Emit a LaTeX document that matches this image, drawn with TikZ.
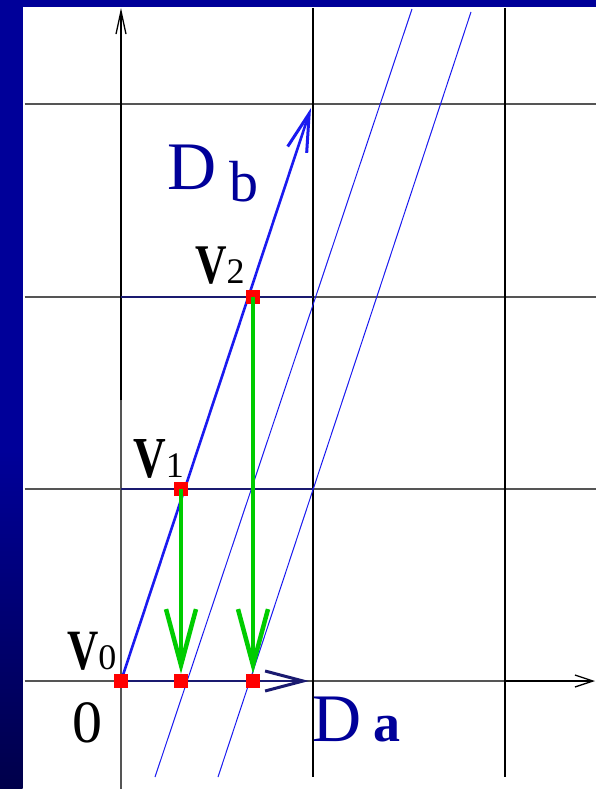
\documentclass[tikz,border=0pt]{standalone}
\usepackage{fontspec}
\setmainfont{Liberation Serif}
\usetikzlibrary{arrows.meta}
\definecolor{barblue}{HTML}{000099}
\definecolor{bardark}{HTML}{00004A}
\definecolor{navy}{HTML}{1A1A70}
\definecolor{labnavy}{HTML}{000099}
\definecolor{lineblue}{HTML}{1A1AF0}
\definecolor{gridgray}{HTML}{555555}
\definecolor{arrgreen}{HTML}{00CC00}
\begin{document}
\begin{tikzpicture}[x=1pt,y=-1pt,
  gridline/.style={gridgray,line width=1.5pt},
  vline/.style={black,line width=1.3pt},
  axisline/.style={black,line width=1.3pt},
  thinblue/.style={lineblue,line width=1pt},
  navyseg/.style={navy,line width=2pt},
  bigvec/.style={line width=2.6pt,-{Straight Barb[length=38pt,width=20pt,line width=3pt]}},
  gar/.style={arrgreen,line width=3.6pt,-{Straight Barb[length=56pt,width=30pt,line width=4.5pt]}},
  ptbox/.style={rectangle,fill=red,draw=none,minimum size=14pt,inner sep=0pt},
  lab/.style={inner sep=0pt,anchor=base west}]
\useasboundingbox (0,0) rectangle (596,789);
\fill[white] (0,0) rectangle (596,789);
\fill[barblue] (0,0) rectangle (596,7);
\fill[barblue] (0,0) rectangle (22.5,451);
\shade[top color=barblue,bottom color=bardark] (0,450) rectangle (22.5,789);
% coordinates
\coordinate (p0) at (121,681);
\coordinate (p1) at (181,489);
\coordinate (p2) at (253,297);
\coordinate (q1) at (181,681);
\coordinate (q2) at (253,681);
% grid
\draw[gridline] (24.7,104) coordinate (h1a) -- (596,104) coordinate (h1b);
\draw[gridline] (24.7,297) coordinate (h2a) -- (596,297) coordinate (h2b);
\draw[gridline] (24.7,489) coordinate (h3a) -- (596,489) coordinate (h3b);
\draw[gridline] (24.7,681) coordinate (h4a) -- (505,681) coordinate (h4b);
\draw[axisline,-{Straight Barb[length=18pt,width=12pt]}] (h4b) -- (595,681) coordinate (xend);
\draw[vline] (313,8) coordinate (v2a) -- (313,777) coordinate (v2b);
\draw[vline] (505,8) coordinate (v3a) -- (505,777) coordinate (v3b);
\draw[gridgray,line width=1.5pt] (121,789) coordinate (yb) -- (121,400) coordinate (ym);
\draw[axisline,-{Straight Barb[length=23pt,width=10pt]}] (ym) -- (121,8) coordinate (yend);
% navy segments
\draw[navyseg] (121,297) coordinate (n2a) -- (313,297) coordinate (n2b);
\draw[navyseg] (121,489) coordinate (n3a) -- (313,489) coordinate (n3b);
% thin blue lines
\draw[thinblue] (155,777) coordinate (t1a) -- (412,9) coordinate (t1b);
\draw[thinblue] (218,777) coordinate (t2a) -- (471,12) coordinate (t2b);
% basis vectors
\draw[bigvec,lineblue] (p0) -- (311,108) coordinate (dbend);
\draw[bigvec,navy] (p0) -- (309,681) coordinate (daend);
% points
\node[ptbox] (V0) at (p0) {};
\node[ptbox] (V1) at (p1) {};
\node[ptbox] (V2) at (p2) {};
\node[ptbox] (A1) at (q1) {};
\node[ptbox] (A2) at (q2) {};
% green projections
\draw[gar] (V1.center) -- (A1.north);
\draw[gar] (V2.center) -- (A2.north);
% labels
\node[lab] (lV0) at (67,669) {\scalebox{0.76}[1]{\bfseries\fontsize{57}{57}\selectfont V}\fontsize{36}{36}\selectfont 0};
\node[lab] (lV1) at (133,477) {\scalebox{0.78}[1]{\bfseries\fontsize{58}{58}\selectfont V}\fontsize{36}{36}\selectfont 1};
\node[lab] (lV2) at (195,283) {\scalebox{0.78}[1]{\bfseries\fontsize{56}{56}\selectfont V}\fontsize{36}{36}\selectfont 2};
\node[lab] (lO) at (72,742) {\fontsize{60}{60}\selectfont 0};
\node[lab,text=labnavy] (lDa) at (312,741) {\fontsize{68}{68}\selectfont D\hspace{12pt}{\bfseries\fontsize{54}{54}\selectfont a}};
\node[lab,text=labnavy] (lDb) at (167,189) {\fontsize{68}{68}\selectfont D\hspace{13pt}\raisebox{-12pt}{\fontsize{58}{58}\selectfont b}};
\end{tikzpicture}
\end{document}
